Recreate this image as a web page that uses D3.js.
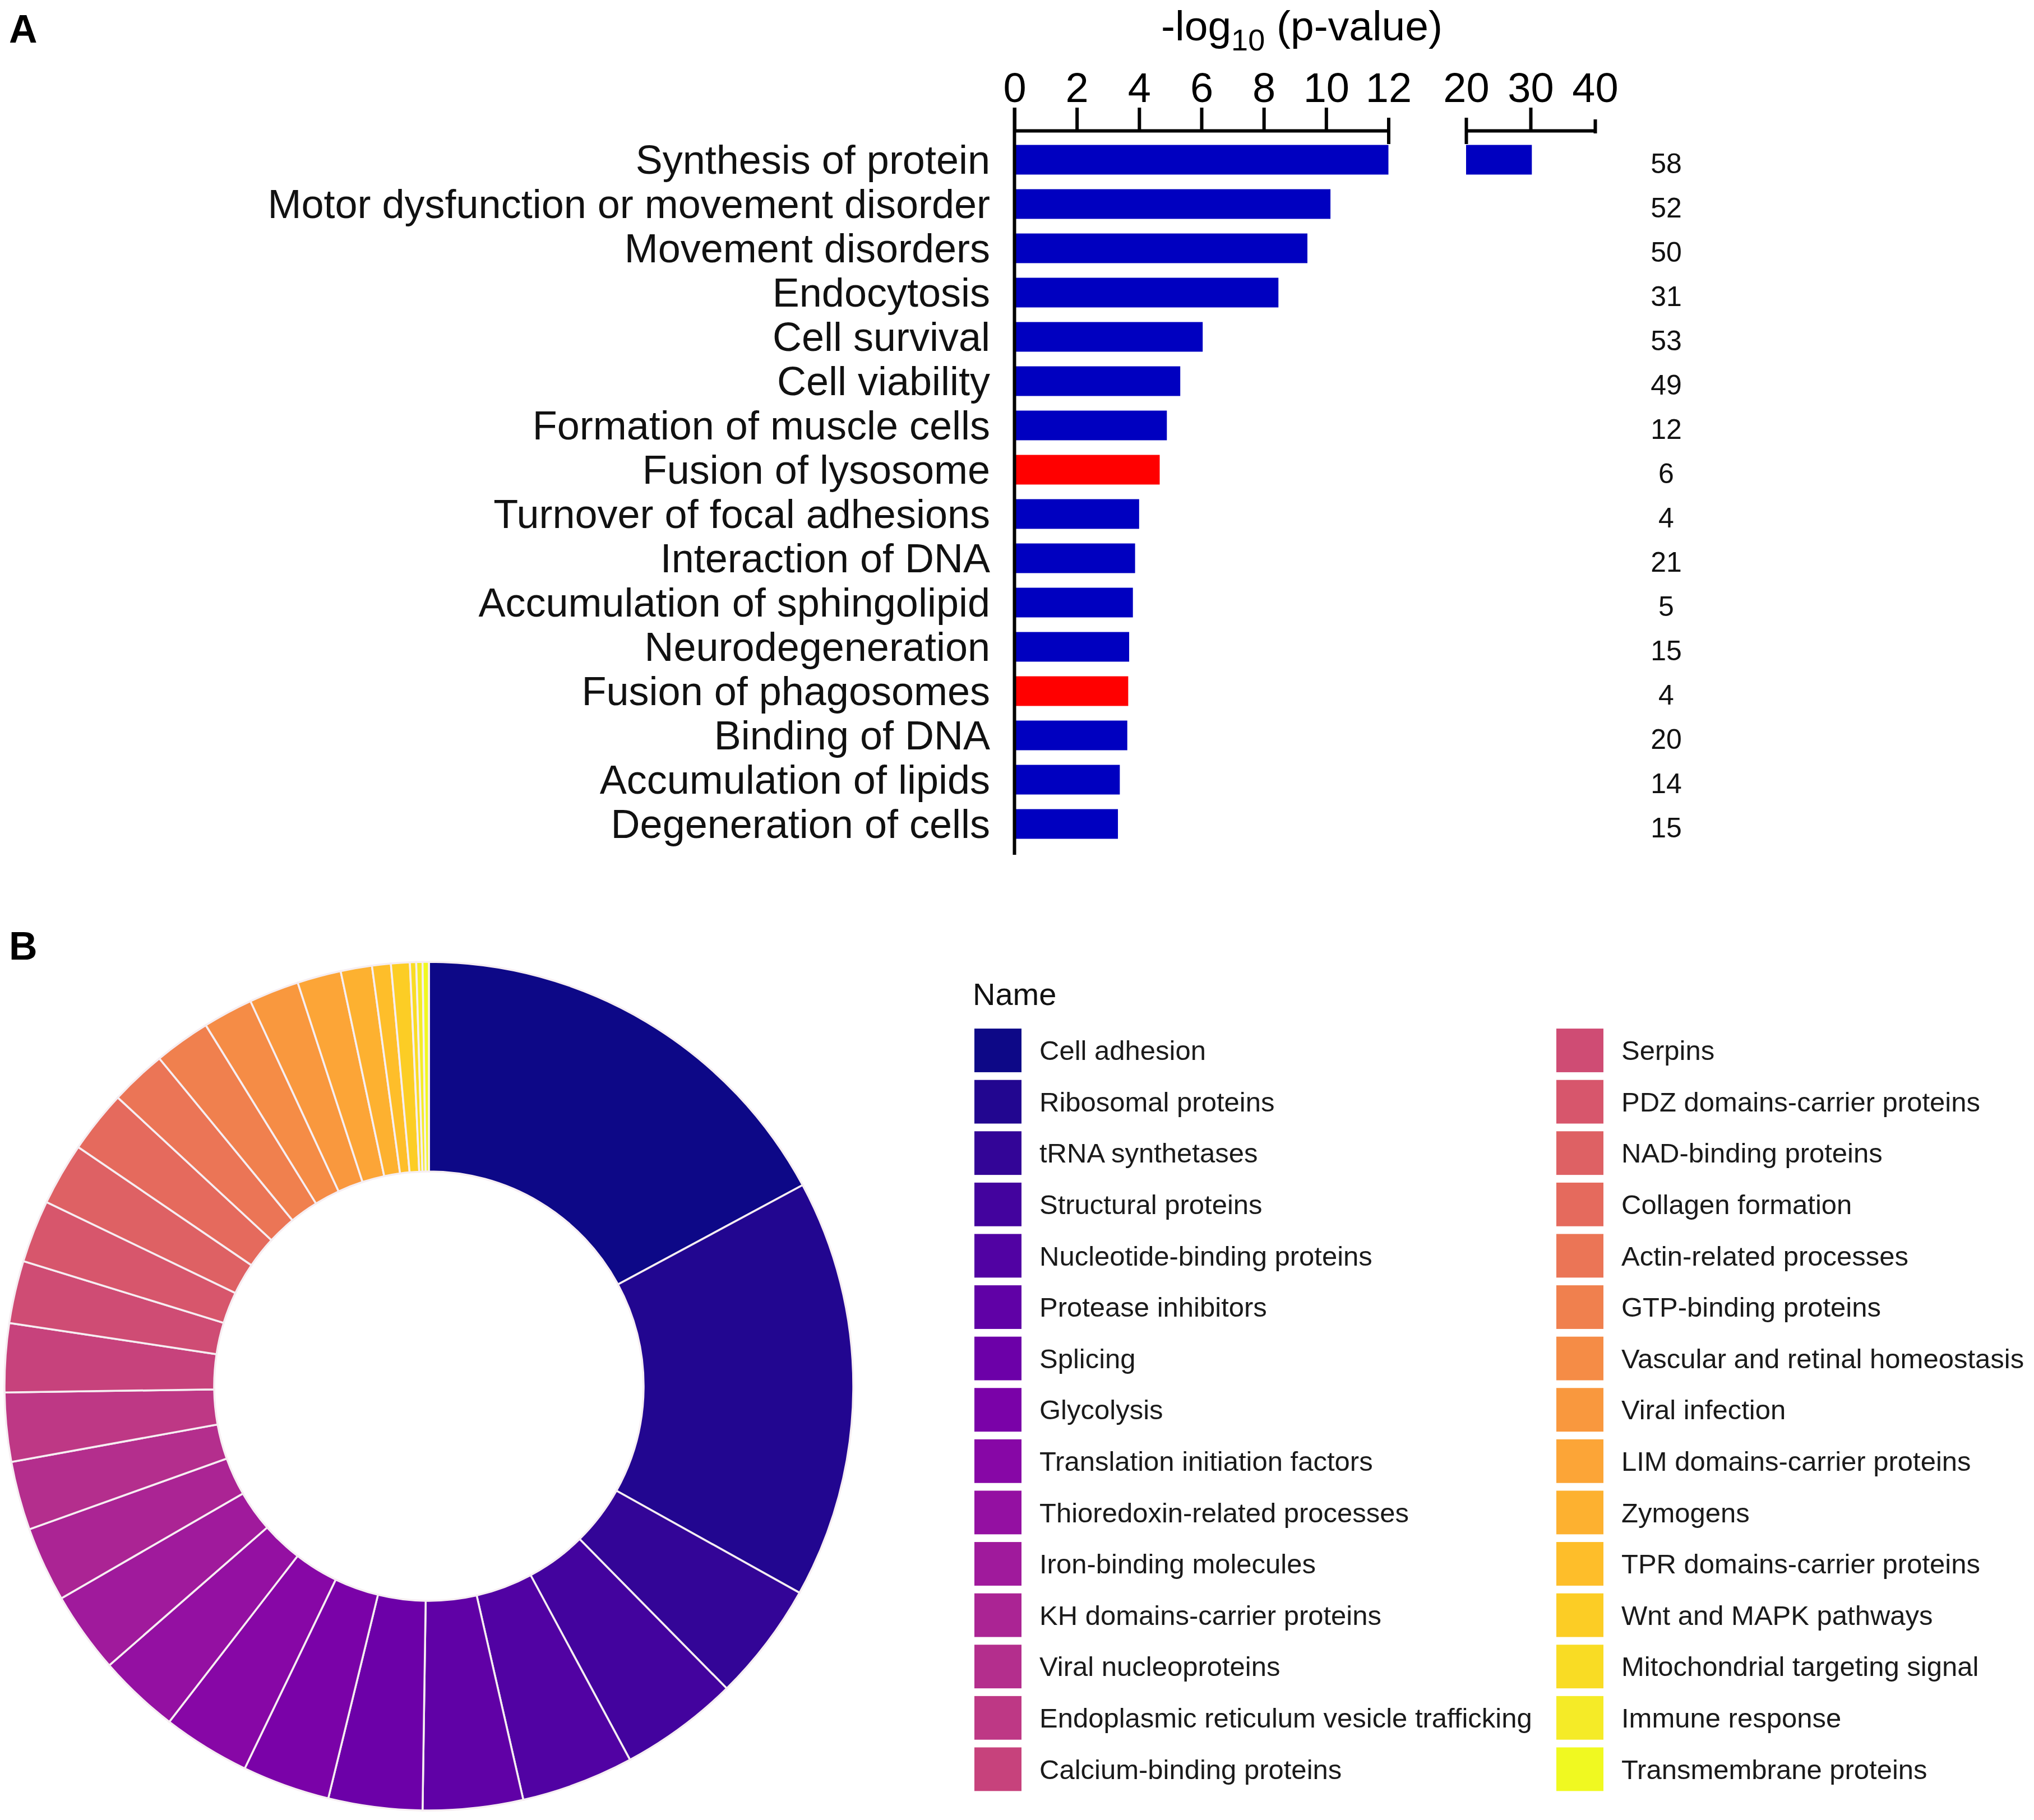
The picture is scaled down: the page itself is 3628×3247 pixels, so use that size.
<!DOCTYPE html>
<html>
<head>
<meta charset="utf-8">
<style>
  body { margin: 0; background: #fff; }
  text { font-family: "Liberation Sans", Arial, sans-serif; }
</style>
</head>
<body>
<script src="https://d3js.org/d3.v7.min.js"></script>
<script>
  // ---- panel A data ----
  const functions = [
    'Synthesis of protein',
    'Motor dysfunction or movement disorder',
    'Movement disorders',
    'Endocytosis',
    'Cell survival',
    'Cell viability',
    'Formation of muscle cells',
    'Fusion of lysosome',
    'Turnover of focal adhesions',
    'Interaction of DNA',
    'Accumulation of sphingolipid',
    'Neurodegeneration',
    'Fusion of phagosomes',
    'Binding of DNA',
    'Accumulation of lipids',
    'Degeneration of cells'
  ]
  const logP = [30.2, 10.14, 9.4, 8.47, 6.04, 5.32, 4.89, 4.66, 4.0, 3.87, 3.8, 3.68, 3.65, 3.62, 3.38, 3.32]
  const molecules = [58, 52, 50, 31, 53, 49, 12, 6, 4, 21, 5, 15, 4, 20, 14, 15]
  const redOnes = ['Fusion of lysosome', 'Fusion of phagosomes']
  const ticksLow = [0, 2, 4, 6, 8, 10, 12]
  const ticksHigh = [20, 30, 40]

  // ---- panel B data ----
  const groups = [
    'Cell adhesion', 'Ribosomal proteins', 'tRNA synthetases', 'Structural proteins',
    'Nucleotide-binding proteins', 'Protease inhibitors', 'Splicing', 'Glycolysis',
    'Translation initiation factors', 'Thioredoxin-related processes', 'Iron-binding molecules',
    'KH domains-carrier proteins', 'Viral nucleoproteins', 'Endoplasmic reticulum vesicle trafficking',
    'Calcium-binding proteins', 'Serpins', 'PDZ domains-carrier proteins', 'NAD-binding proteins',
    'Collagen formation', 'Actin-related processes', 'GTP-binding proteins',
    'Vascular and retinal homeostasis', 'Viral infection', 'LIM domains-carrier proteins',
    'Zymogens', 'TPR domains-carrier proteins', 'Wnt and MAPK pathways',
    'Mitochondrial targeting signal', 'Immune response', 'Transmembrane proteins'
  ]
  const groupCounts = [72, 67, 19, 19, 18, 16, 15, 14, 14, 13, 13, 12, 11, 11, 11, 10, 10, 10, 10, 9, 9, 8, 8, 7, 5, 3, 3, 1, 1, 1]

  const width = 3628
  const height = 3247

  const svg = d3.select('body').append('svg')
    .attr('width', width)
    .attr('height', height)

  // panel letters
  svg.append('text').attr('x', 16).attr('y', 76)
    .attr('font-size', 70).attr('font-weight', 'bold').text('A')
  svg.append('text').attr('x', 16).attr('y', 1712)
    .attr('font-size', 70).attr('font-weight', 'bold').text('B')

  // ================= A: bar chart with broken axis =================
  const axisY = 233
  const x1 = d3.scaleLinear().domain([0, 12]).range([1809.5, 2476.5])
  const x2 = d3.scaleLinear().domain([20, 40]).range([2615, 2845])
  const y = d3.scaleBand()
    .domain(functions)
    .range([245.5, 1509.5])
    .paddingInner(0.33)
    .paddingOuter(0.165)

  const a = svg.append('g')

  // title
  const title = a.append('text')
    .attr('x', 2322).attr('y', 72)
    .attr('text-anchor', 'middle')
    .attr('font-size', 75)
  title.append('tspan').text('-log')
  title.append('tspan').attr('font-size', 54).attr('dy', 18).text('10')
  title.append('tspan').attr('dy', -18).text(' (p-value)')

  function drawAxis(scale, ticks) {
    const g = a.append('g')
      .attr('transform', `translate(0, ${axisY})`)
      .call(d3.axisTop(scale).tickValues(ticks).tickSize(41).tickSizeOuter(0).tickPadding(10))
    g.select('.domain').attr('stroke', '#000').attr('stroke-width', 6)
    g.selectAll('.tick line').attr('stroke', '#000').attr('stroke-width', 6)
    g.selectAll('.tick text')
      .attr('font-size', 74)
      .attr('fill', '#000')
      .attr('font-family', '"Liberation Sans", Arial, sans-serif')
    return g
  }
  const axLow = drawAxis(x1, ticksLow)
  const axHigh = drawAxis(x2, ticksHigh)

  // caps at the axis break
  axLow.selectAll('.tick').filter(d => d === 12).select('line').attr('y1', 24).attr('y2', -23)
  axHigh.selectAll('.tick').filter(d => d === 20).select('line').attr('y1', 24).attr('y2', -23)
  axHigh.selectAll('.tick').filter(d => d === 40).select('line').attr('y1', 5).attr('y2', -20)

  // bars (low segment)
  a.selectAll('rect.low')
    .data(functions)
    .enter().append('rect')
    .attr('class', 'low')
    .attr('x', x1(0))
    .attr('y', d => y(d))
    .attr('width', (d, i) => x1(Math.min(logP[i], 12)) - x1(0))
    .attr('height', y.bandwidth())
    .attr('fill', d => redOnes.includes(d) ? '#ff0000' : '#0000c0')

  // bars (high segment)
  a.selectAll('rect.high')
    .data(functions.filter((d, i) => logP[i] > 20))
    .enter().append('rect')
    .attr('class', 'high')
    .attr('x', x2(20))
    .attr('y', d => y(d))
    .attr('width', d => x2(logP[functions.indexOf(d)]) - x2(20))
    .attr('height', y.bandwidth())
    .attr('fill', '#0000c0')

  // vertical axis line
  a.append('line')
    .attr('x1', x1(0)).attr('x2', x1(0))
    .attr('y1', axisY - 41).attr('y2', 1525)
    .attr('stroke', '#000').attr('stroke-width', 6)

  // category labels
  a.selectAll('text.cat')
    .data(functions)
    .enter().append('text')
    .attr('class', 'cat')
    .attr('x', 1766)
    .attr('y', d => y(d) + y.bandwidth() / 2)
    .attr('dy', '0.35em')
    .attr('text-anchor', 'end')
    .attr('font-size', 72)
    .attr('fill', '#111')
    .text(d => d)

  // molecule counts
  a.selectAll('text.count')
    .data(functions)
    .enter().append('text')
    .attr('class', 'count')
    .attr('x', 2972)
    .attr('y', d => y(d) + y.bandwidth() / 2 + 6)
    .attr('dy', '0.35em')
    .attr('text-anchor', 'middle')
    .attr('font-size', 50)
    .attr('fill', '#111')
    .text((d, i) => molecules[i])

  // ================= B: donut =================
  const color = d3.scaleOrdinal()
    .domain(groups)
    .range(groups.map((d, i) => d3.interpolatePlasma(i / (groups.length - 1))))

  const pie = d3.pie().sort(null).value(d => d.n)
  const arc = d3.arc().innerRadius(383).outerRadius(757)
  const slices = pie(groups.map((g, i) => ({ name: g, n: groupCounts[i] })))

  const b = svg.append('g').attr('transform', 'translate(765, 2473)')
  b.selectAll('path')
    .data(slices)
    .enter().append('path')
    .attr('d', arc)
    .attr('fill', d => color(d.data.name))
    .attr('stroke', '#f6eef2')
    .attr('stroke-width', 3.5)

  // legend
  const leg = svg.append('g')
  leg.append('text').attr('x', 1735).attr('y', 1793)
    .attr('font-size', 56).attr('fill', '#111').text('Name')

  const rows = d3.scaleBand()
    .domain(d3.range(15))
    .range([1874 - 45.8, 1874 - 45.8 + 91.6 * 15])
    .paddingInner(0.15)
    .paddingOuter(0.075)
  const colX = [1738, 2776]

  const item = leg.selectAll('g.item')
    .data(groups)
    .enter().append('g')
    .attr('class', 'item')
    .attr('transform', (d, i) => `translate(${colX[Math.floor(i / 15)]}, ${rows(i % 15)})`)
  item.append('rect')
    .attr('width', 84)
    .attr('height', rows.bandwidth())
    .attr('fill', d => color(d))
  item.append('text')
    .attr('x', 116)
    .attr('y', rows.bandwidth() / 2)
    .attr('dy', '0.35em')
    .attr('font-size', 49)
    .attr('fill', '#1a1a1a')
    .text(d => d)
</script>
</body>
</html>
